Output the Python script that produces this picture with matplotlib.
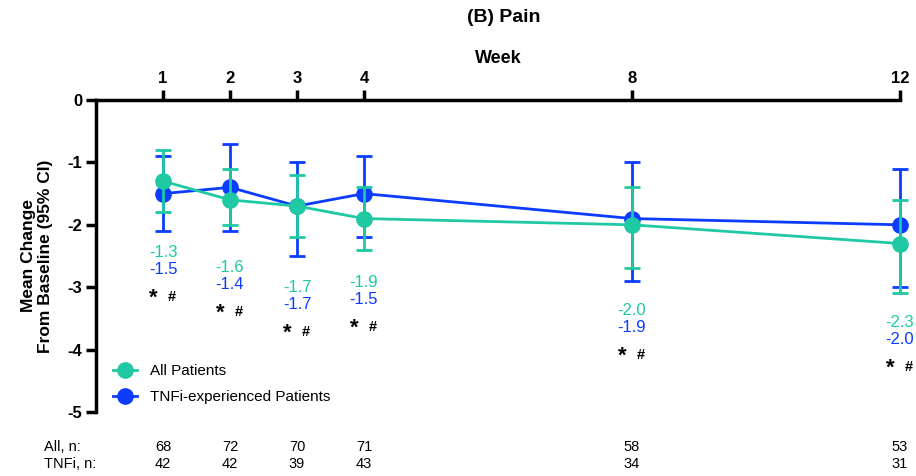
import matplotlib.pyplot as plt
from matplotlib.lines import Line2D
import numpy as np

plt.rcParams['font.family'] = ['Liberation Sans', 'DejaVu Sans']

weeks = [1, 2, 3, 4, 8, 12]
all_mean = [-1.3, -1.6, -1.7, -1.9, -2.0, -2.3]
all_lo = [-1.8, -2.0, -2.2, -2.4, -2.7, -3.1]
all_hi = [-0.8, -1.1, -1.2, -1.4, -1.4, -1.6]
tnf_mean = [-1.5, -1.4, -1.7, -1.5, -1.9, -2.0]
tnf_lo = [-2.1, -2.1, -2.5, -2.2, -2.9, -3.0]
tnf_hi = [-0.9, -0.7, -1.0, -0.9, -1.0, -1.1]
all_n = [68, 72, 70, 71, 58, 53]
tnf_n = [42, 42, 39, 43, 34, 31]
# where the value labels sit under each point
label_y = [-2.44, -2.69, -3.01, -2.93, -3.37, -3.57]

green = "#1ec9a3"
blue = "#0b3cff"

fig = plt.figure(figsize=(9.16, 4.76), dpi=100)
ax = fig.add_axes([96 / 916, 1 - 412 / 476, (900 - 96) / 916, 312 / 476])

all_mean = np.array(all_mean)
tnf_mean = np.array(tnf_mean)
ax.errorbar(weeks, tnf_mean, yerr=[tnf_mean - np.array(tnf_lo), np.array(tnf_hi) - tnf_mean],
            color=blue, marker="o", ms=11, lw=2, capsize=5.5, capthick=2, elinewidth=2,
            zorder=3, clip_on=False)
ax.errorbar(weeks, all_mean, yerr=[all_mean - np.array(all_lo), np.array(all_hi) - all_mean],
            color=green, marker="o", ms=11, lw=2, capsize=5.5, capthick=2, elinewidth=2,
            zorder=4, clip_on=False)

for w, a, t, ly in zip(weeks, all_mean, tnf_mean, label_y):
    ax.text(w, ly, f"{a:.1f}", color=green, ha="center", va="center", fontsize=12)
    ax.text(w, ly - 0.27, f"{t:.1f}", color=blue, ha="center", va="center", fontsize=12)
    ax.annotate("*", (w, ly - 0.71), xytext=(-7, -1), textcoords="offset points",
                ha="center", va="center", fontsize=16, fontweight="bold")
    ax.annotate("#", (w, ly - 0.71), xytext=(6, 0), textcoords="offset points",
                ha="center", va="center", fontsize=10.5, fontweight="bold")

ax.set_xlim(0, 12)
ax.set_ylim(-5, 0)
ax.xaxis.tick_top()
ax.xaxis.set_label_position("top")
ax.set_xticks(weeks)
ax.set_xticklabels([str(w) for w in weeks], fontweight="bold", fontsize=12)
ax.set_yticks([0, -1, -2, -3, -4, -5])
ax.set_yticklabels(["0", "-1", "-2", "-3", "-4", "-5"], fontweight="bold", fontsize=12)
ax.tick_params(width=2.5, length=7, direction="out", pad=3)
for s in ["bottom", "right"]:
    ax.spines[s].set_visible(False)
for s in ["top", "left"]:
    ax.spines[s].set_linewidth(2.5)
ax.set_xlabel("Week", fontweight="bold", fontsize=13, labelpad=6)
ax.set_ylabel("Mean Change\nFrom Baseline (95% CI)", fontweight="bold", fontsize=12.5, labelpad=10)

fig.text(504 / 916, 1 - 18 / 476, "(B) Pain", ha="center", va="center", fontweight="bold", fontsize=14)

handles = [Line2D([], [], color=green, marker="o", ms=11, lw=2),
           Line2D([], [], color=blue, marker="o", ms=11, lw=2)]
fig.legend(handles, ["All Patients", "TNFi-experienced Patients"], loc="upper left",
           bbox_to_anchor=(113 / 916, 1 - 364 / 476), frameon=False, borderpad=0,
           borderaxespad=0, fontsize=11, handlelength=1.6, handletextpad=0.8,
           labelspacing=0.8)

# n table under the chart
fig.text(44 / 916, 1 - 447 / 476, "All, n:", va="center", fontsize=10.5)
fig.text(44 / 916, 1 - 464 / 476, "TNFi, n:", va="center", fontsize=10.5)
for w, a, t in zip(weeks, all_n, tnf_n):
    ax.annotate(str(a), (w, 0), xycoords=("data", "figure fraction"), xytext=(0, 476 - 447),
                textcoords="offset pixels", ha="center", va="center", fontsize=10.5)
    ax.annotate(str(t), (w, 0), xycoords=("data", "figure fraction"), xytext=(0, 476 - 464),
                textcoords="offset pixels", ha="center", va="center", fontsize=10.5)

fig.savefig("out.png", dpi=100)
